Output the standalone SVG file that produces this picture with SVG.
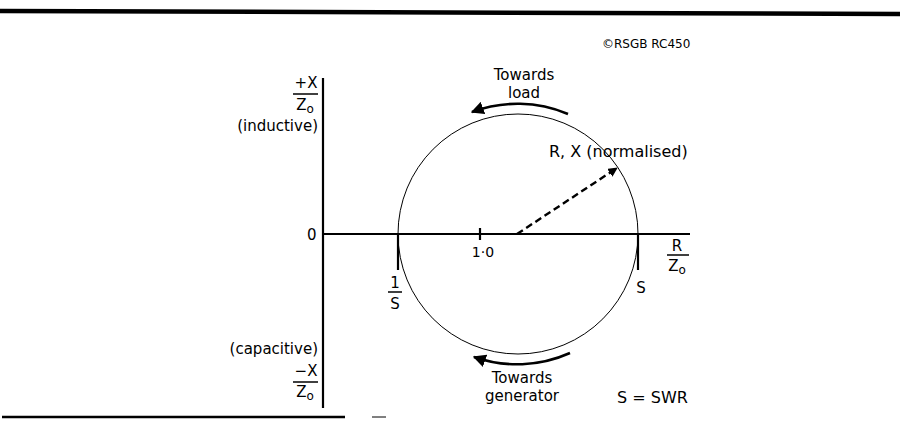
<svg xmlns="http://www.w3.org/2000/svg" width="900" height="427" viewBox="0 0 900 427">
<defs>
<style>
text{font-family:"DejaVu Sans","Liberation Sans",sans-serif;font-size:15px;fill:#000}
.m{text-anchor:middle}
.e{text-anchor:end}
.ax{stroke:#000;stroke-width:2.2;fill:none}
.thin{stroke:#000;stroke-width:1;fill:none}
.arc{stroke:#000;stroke-width:2.6;fill:none}
.bar{stroke:#000;stroke-width:1.5}
.sub{font-size:12px}
</style>
<marker id="ah" viewBox="0 0 10 10" refX="9" refY="5" markerWidth="5" markerHeight="5" orient="auto" markerUnits="strokeWidth">
<path d="M0,0 L10,5 L0,10 z" fill="#000"/>
</marker>
<marker id="ah2" viewBox="0 0 10 10" refX="9" refY="5" markerWidth="4" markerHeight="4" orient="auto" markerUnits="strokeWidth">
<path d="M0,0 L10,5 L0,10 z" fill="#000"/>
</marker>
</defs>
<g id="frame">
<line x1="0" y1="11" x2="900" y2="14" stroke="#000" stroke-width="4.5"/>
<line x1="2" y1="417" x2="345" y2="417" stroke="#000" stroke-width="2.5"/>
<line x1="372" y1="417" x2="386" y2="417" stroke="#000" stroke-width="1"/>
</g>
<g id="copyright"><text x="602" y="48" style="font-size:12px">©RSGB RC450</text></g>
<g id="axes">
<line class="ax" x1="323" y1="78" x2="323" y2="408"/>
<line class="ax" x1="323" y1="234" x2="690" y2="234"/>
<line class="ax" x1="480" y1="228" x2="480" y2="240"/>
</g>
<g id="circle"><circle class="thin" cx="518" cy="234" r="120"/></g>
<g id="connectors">
<line x1="517" y1="234" x2="617" y2="168" stroke="#000" stroke-width="2.4" stroke-dasharray="7,4" marker-end="url(#ah2)"/>
<path class="arc" d="M568,114 A130,130 0 0 0 472,112" marker-end="url(#ah)"/>
<path class="arc" d="M570,353 A130,130 0 0 1 474,357" marker-end="url(#ah)"/>
<line class="ax" x1="398" y1="234" x2="398" y2="270"/>
<line class="ax" x1="638" y1="234" x2="638" y2="270"/>
</g>
<g id="yplus">
<text class="m" x="306" y="88">+X</text>
<line class="bar" x1="293" y1="94" x2="318" y2="94"/>
<text class="m" x="305" y="110">Z<tspan dy="3" class="sub">o</tspan></text>
<text class="e" x="318" y="131">(inductive)</text>
</g>
<g id="zero"><text x="307" y="240">0</text></g>
<g id="yminus">
<text class="e" x="318" y="354">(capacitive)</text>
<text class="m" x="306" y="376">−X</text>
<line class="bar" x1="293" y1="382" x2="318" y2="382"/>
<text class="m" x="305" y="397">Z<tspan dy="3" class="sub">o</tspan></text>
</g>
<g id="xlabel">
<text class="m" x="677" y="251">R</text>
<line class="bar" x1="667" y1="255" x2="689" y2="255"/>
<text class="m" x="677" y="271">Z<tspan dy="3" class="sub">o</tspan></text>
</g>
<g id="one"><text class="m" x="483" y="257" style="font-size:14px">1·0</text></g>
<g id="inv-s">
<text class="m" x="395" y="288">1</text>
<line class="bar" x1="388" y1="292" x2="402" y2="292"/>
<text class="m" x="395" y="309">S</text>
</g>
<g id="s"><text class="m" x="641" y="293">S</text></g>
<g id="load"><text class="m" x="524" y="80">Towards</text><text class="m" x="524" y="98">load</text></g>
<g id="gen"><text class="m" x="522" y="383">Towards</text><text class="m" x="522" y="401">generator</text></g>
<g id="rx"><text x="549" y="157" style="font-size:16px">R, X (normalised)</text></g>
<g id="swr"><text x="617" y="403" style="font-size:16px">S = SWR</text></g>
</svg>
